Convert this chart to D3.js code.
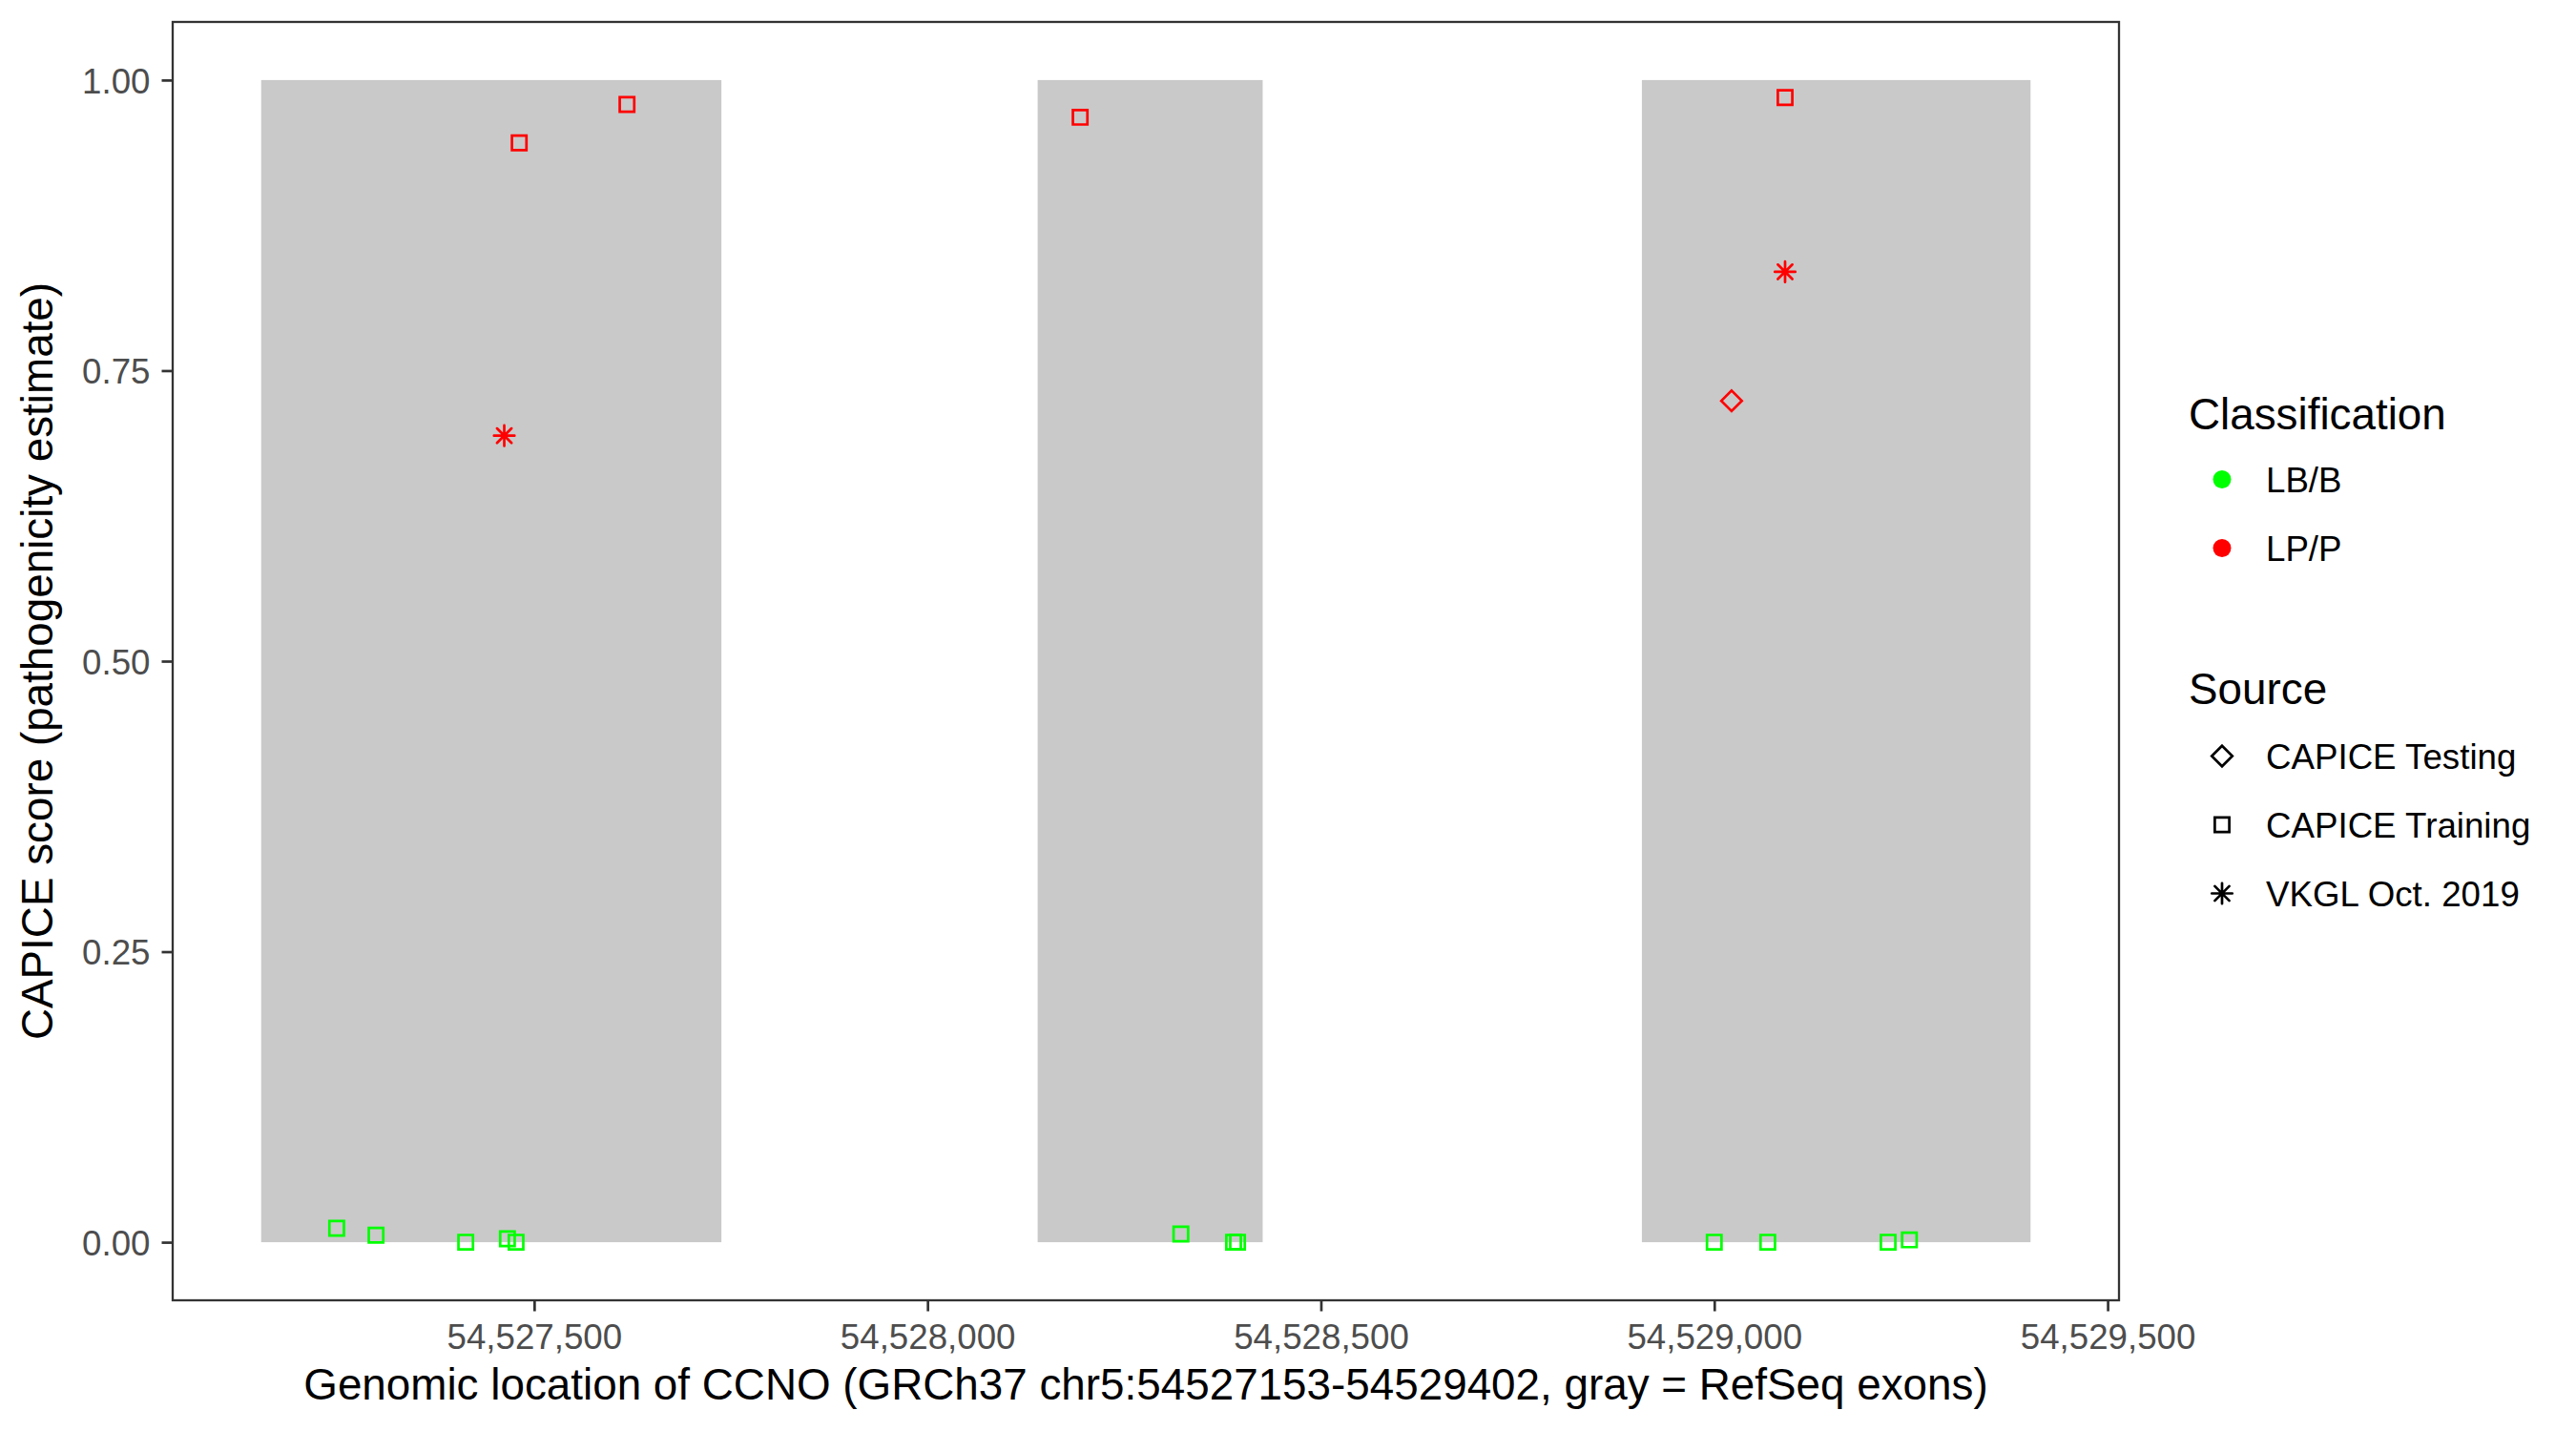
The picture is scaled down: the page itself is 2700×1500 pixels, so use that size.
<!DOCTYPE html>
<html>
<head>
<meta charset="utf-8">
<script src="https://cdn.jsdelivr.net/npm/d3@7"></script>
<style>
    body { margin: 0; background: #fff; }
    svg { display: block; font-family: "Liberation Sans", Arial, Helvetica, sans-serif; }
</style>
</head>
<body>
<svg id="chart" width="2700" height="1500"></svg>
<script>
'use strict';

// exons (RefSeq), gray bands
const exonStarts = [54527153, 54528140, 54528908];
const exonEnds = [54527738, 54528426, 54529402];

// variants
const positions = [
    54527249, 54527299, 54527413, 54527466, 54527477,
    54528322, 54528389, 54528394,
    54529000, 54529068, 54529221, 54529248,
    54527481, 54527618, 54528194, 54529090,
    54527462, 54529090,
    54529022
];
const scores = [
    0.012, 0.006, 0.0, 0.003, 0.0,
    0.007, 0.0, 0.0,
    0.0, 0.0, 0.0, 0.002,
    0.946, 0.979, 0.968, 0.985,
    0.694, 0.835,
    0.724
];
const classes = [
    'LB/B', 'LB/B', 'LB/B', 'LB/B', 'LB/B',
    'LB/B', 'LB/B', 'LB/B',
    'LB/B', 'LB/B', 'LB/B', 'LB/B',
    'LP/P', 'LP/P', 'LP/P', 'LP/P',
    'LP/P', 'LP/P',
    'LP/P'
];
const sources = [
    'CAPICE Training', 'CAPICE Training', 'CAPICE Training', 'CAPICE Training', 'CAPICE Training',
    'CAPICE Training', 'CAPICE Training', 'CAPICE Training',
    'CAPICE Training', 'CAPICE Training', 'CAPICE Training', 'CAPICE Training',
    'CAPICE Training', 'CAPICE Training', 'CAPICE Training', 'CAPICE Training',
    'VKGL Oct. 2019', 'VKGL Oct. 2019',
    'CAPICE Testing'
];

const classLevels = ['LB/B', 'LP/P'];
const classColors = ['#00ff00', '#ff0000'];
const sourceLevels = ['CAPICE Testing', 'CAPICE Training', 'VKGL Oct. 2019'];

const xTicks = [54527500, 54528000, 54528500, 54529000, 54529500];
const yTicks = [0, 0.25, 0.5, 0.75, 1];

const REGION_START = 54527153;
const REGION_END = 54529402;

const LEFT = 181;
const RIGHT = 2221;
const TOP = 23;
const BOTTOM = 1363;
const TICK = 11.5;
const STROKE = 2.7;

const svg = d3.select('#chart');

// ggplot-like 5% expansion
const xPad = (REGION_END - REGION_START) * 0.05;
const x = d3.scaleLinear()
    .domain([REGION_START - xPad, REGION_END + xPad])
    .range([LEFT, RIGHT]);

const y = d3.scaleLinear()
    .domain([-0.05, 1.05])
    .range([BOTTOM, TOP]);

const color = d3.scaleOrdinal().domain(classLevels).range(classColors);

// marker paths, r = half side of the square
function shapePath(source, r) {
    if (source === 'CAPICE Testing') {
        const d = r * Math.SQRT2;
        return `M0,${-d}L${d},0L0,${d}L${-d},0Z`;
    }
    if (source === 'CAPICE Training') {
        return `M${-r},${-r}H${r}V${r}H${-r}Z`;
    }
    const p = r * Math.SQRT2;
    return `M${-p},0H${p}M0,${-p}V${p}M${-r},${-r}L${r},${r}M${-r},${r}L${r},${-r}`;
}

// exons
svg.append('g')
    .selectAll('rect')
    .data(d3.range(exonStarts.length))
    .enter()
    .append('rect')
    .attr('x', (i) => x(exonStarts[i]))
    .attr('y', y(1))
    .attr('width', (i) => x(exonEnds[i]) - x(exonStarts[i]))
    .attr('height', y(0) - y(1))
    .attr('fill', '#c9c9c9');

// points
svg.append('g')
    .selectAll('path')
    .data(d3.range(positions.length))
    .enter()
    .append('path')
    .attr('transform', (i) => `translate(${x(positions[i])},${y(scores[i])})`)
    .attr('d', (i) => shapePath(sources[i], 7.6))
    .attr('fill', 'none')
    .attr('stroke', (i) => color(classes[i]))
    .attr('stroke-width', STROKE)
    .attr('stroke-linecap', 'round');

// panel border
svg.append('rect')
    .attr('x', LEFT)
    .attr('y', TOP)
    .attr('width', RIGHT - LEFT)
    .attr('height', BOTTOM - TOP)
    .attr('fill', 'none')
    .attr('stroke', '#333333')
    .attr('stroke-width', 2.3);

// axes
const xAxis = d3.axisBottom(x)
    .tickValues(xTicks)
    .tickFormat(d3.format(','))
    .tickSize(TICK)
    .tickPadding(13);

const gX = svg.append('g')
    .attr('transform', `translate(0,${BOTTOM})`)
    .call(xAxis);

const yAxis = d3.axisLeft(y)
    .tickValues(yTicks)
    .tickFormat(d3.format('.2f'))
    .tickSize(TICK)
    .tickPadding(12);

const gY = svg.append('g')
    .attr('transform', `translate(${LEFT},0)`)
    .call(yAxis);

[gX, gY].forEach((g) => {
    g.select('.domain').remove();
    g.selectAll('.tick line')
        .attr('stroke', '#333333')
        .attr('stroke-width', 2.7);
    g.selectAll('.tick text')
        .attr('fill', '#4d4d4d')
        .style('font-size', '36.7px')
        .style('font-family', '"Liberation Sans", Arial, sans-serif');
});

gX.selectAll('.tick text').attr('dy', '0.71em');
gY.selectAll('.tick text').attr('dy', '0.36em');

// axis titles
svg.append('text')
    .attr('x', (LEFT + RIGHT) / 2)
    .attr('y', 1467)
    .attr('text-anchor', 'middle')
    .style('font-size', '45.8px')
    .text('Genomic location of CCNO (GRCh37 chr5:54527153-54529402, gray = RefSeq exons)');

svg.append('text')
    .attr('transform', `translate(55,${(TOP + BOTTOM) / 2}) rotate(-90)`)
    .attr('text-anchor', 'middle')
    .style('font-size', '45.8px')
    .text('CAPICE score (pathogenicity estimate)');

// legends
const LEG_X = 2294;
const KEY_X = 2329;
const LABEL_X = 2375;
const KEY_STEP = 72;

const legend = svg.append('g');

legend.append('text')
    .attr('x', LEG_X)
    .attr('y', 450)
    .style('font-size', '45.8px')
    .text('Classification');

classLevels.forEach((level, i) => {
    const cy = 502.5 + i * KEY_STEP;
    legend.append('circle')
        .attr('cx', KEY_X)
        .attr('cy', cy)
        .attr('r', 9.5)
        .attr('fill', color(level));
    legend.append('text')
        .attr('x', LABEL_X)
        .attr('y', cy + 13)
        .style('font-size', '36.7px')
        .text(level);
});

legend.append('text')
    .attr('x', LEG_X)
    .attr('y', 738)
    .style('font-size', '45.8px')
    .text('Source');

sourceLevels.forEach((level, i) => {
    const cy = 792.5 + i * KEY_STEP;
    legend.append('path')
        .attr('transform', `translate(${KEY_X},${cy})`)
        .attr('d', shapePath(level, 7.6))
        .attr('fill', 'none')
        .attr('stroke', '#000')
        .attr('stroke-width', STROKE)
        .attr('stroke-linecap', 'round');
    legend.append('text')
        .attr('x', LABEL_X)
        .attr('y', cy + 13)
        .style('font-size', '36.7px')
        .text(level);
});
</script>
</body>
</html>
